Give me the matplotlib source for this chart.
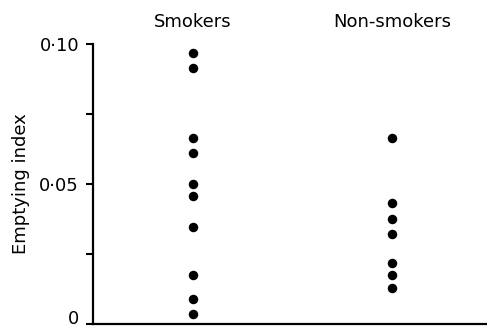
import matplotlib
matplotlib.use('Agg')
import matplotlib.pyplot as plt
from matplotlib.transforms import ScaledTranslation

groups = ['Smokers', 'Non-smokers']
smokers = [0.0969, 0.0915, 0.0663, 0.0611, 0.0501, 0.0457, 0.0345, 0.0174, 0.0089, 0.0035]
non_smokers = [0.0665, 0.0431, 0.0376, 0.0321, 0.0219, 0.0174, 0.0129]
yticks = [0, 0.05, 0.10]
yticklabels = ['0', '0\u00b705', '0\u00b710']

plt.rcParams['font.family'] = ['DejaVu Sans']
fs = 13

fig = plt.figure(figsize=(4.87, 3.29), dpi=100)
ax = fig.add_axes([93 / 487, 5 / 329, 394 / 487, 280 / 329])

for i, vals in enumerate([smokers, non_smokers]):
    ax.scatter([i] * len(vals), vals, s=34, color='black', zorder=3)
    ax.text(i, 1.08, groups[i], transform=ax.get_xaxis_transform(),
            ha='center', va='center', fontsize=fs)

ax.set_xlim(-0.499, 1.474)
ax.set_ylim(0, 0.10)
ax.set_yticks(yticks)
ax.set_yticklabels(yticklabels, fontsize=fs)
ax.set_yticks([0.025, 0.075], minor=True)
ax.tick_params(axis='y', which='both', direction='out', length=5, width=1.5, pad=5)
ax.set_xticks([])
ax.set_ylabel('Emptying index', fontsize=fs, labelpad=7)

# lift the bottom tick label so it stays inside the canvas
zero_label = ax.get_yticklabels()[0]
zero_label.set_transform(zero_label.get_transform() + ScaledTranslation(0, 5 / 72, fig.dpi_scale_trans))

for side in ['top', 'right']:
    ax.spines[side].set_visible(False)
for side in ['left', 'bottom']:
    ax.spines[side].set_linewidth(1.6)

fig.savefig('out.png', dpi=100)
